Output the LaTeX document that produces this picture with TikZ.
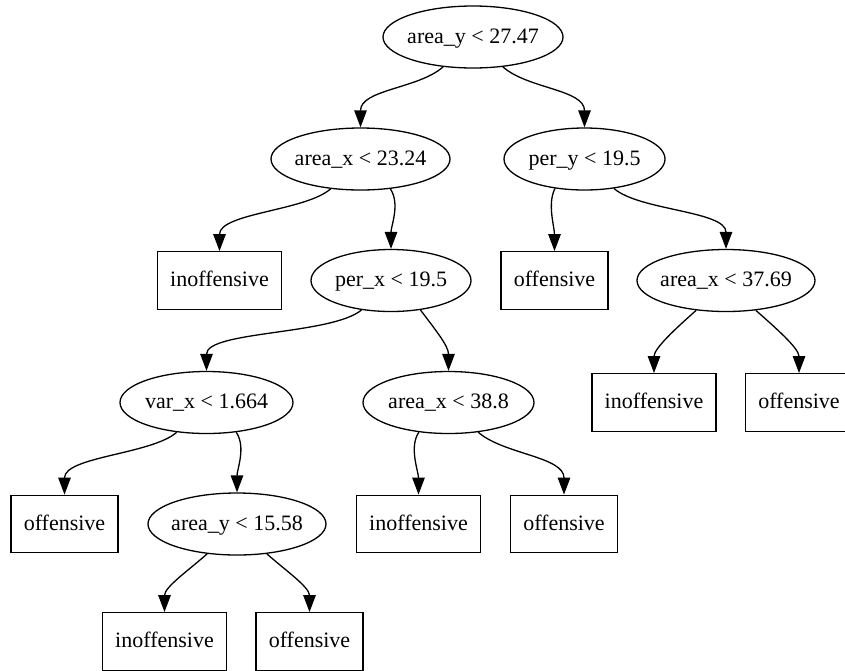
\documentclass[tikz,border=0pt]{standalone}
\usepackage{fontspec}
\setmainfont{Liberation Serif}
\newfontfamily\treefont{Liberation Serif}
\usetikzlibrary{shapes.geometric,arrows.meta}
\begin{document}
\begin{tikzpicture}[x=1pt,y=-1pt,
  labelfont/.style={font=\treefont\fontsize{22}{26}\selectfont,text height=16pt,text depth=4pt},
  split/.style={ellipse,draw,line width=1.3pt,labelfont,inner xsep=-12pt,inner ysep=0pt,minimum height=62pt},
  leaf/.style={rectangle,draw,line width=1.3pt,labelfont,inner xsep=12.7pt,inner ysep=0pt,minimum height=57.6pt},
  edge/.style={line width=1.3pt,-{Triangle[length=17pt,width=12.5pt]}}]
\useasboundingbox (0,0) rectangle (845,670);

% decision nodes and leaves, one rank per row
\node[split,minimum width=180pt] (r)  at (473,37)     {area\_y < 27.47};
\node[split,minimum width=179pt] (a1) at (360.5,159)  {area\_x < 23.24};
\node[split,minimum width=161pt] (py) at (584.5,159)  {per\_y < 19.5};
\node[leaf]                      (i1) at (219.5,280.5) {inoffensive};
\node[split,minimum width=160pt] (px) at (391,280.5)  {per\_x < 19.5};
\node[leaf]                      (o1) at (554.5,280.5) {offensive};
\node[split,minimum width=178pt] (a2) at (726,280.5)  {area\_x < 37.69};
\node[split,minimum width=173pt] (vx) at (206.5,402.5) {var\_x < 1.664};
\node[split,minimum width=171pt] (a3) at (448.5,402.5) {area\_x < 38.8};
\node[leaf]                      (i2) at (654,402.5)  {inoffensive};
\node[leaf]                      (o2) at (799,402.5)  {offensive};
\node[leaf]                      (o3) at (64.5,524)   {offensive};
\node[split,minimum width=178pt] (ay) at (237,524)    {area\_y < 15.58};
\node[leaf]                      (i3) at (418.5,524)  {inoffensive};
\node[leaf]                      (o4) at (564,524)    {offensive};
\node[leaf]                      (i4) at (164.5,641.5) {inoffensive};
\node[leaf]                      (o5) at (309.5,641.5) {offensive};

% branches
\draw[edge] (r.-135)  .. controls +(-25,22) and +(0,-38) .. (a1.north);
\draw[edge] (r.-45)   .. controls +(25,22)  and +(0,-38) .. (py.north);
\draw[edge] (a1.-135) .. controls +(-25,22) and +(0,-38) .. (i1.north);
\draw[edge] (a1.-45)  .. controls +(10,15)  and +(0,-23) .. (px.north);
\draw[edge] (py.-135) .. controls +(-8,15)  and +(0,-24) .. (o1.north);
\draw[edge] (py.-45)  .. controls +(25,22)  and +(0,-38) .. (a2.north);
\draw[edge] (px.-135) .. controls +(-30,25) and +(0,-40) .. (vx.north);
\draw[edge] (px.-45)  .. controls +(15,20)  and +(0,-25) .. (a3.north);
\draw[edge] (a2.-135) .. controls +(-18,16) and +(0,-25) .. (i2.north);
\draw[edge] (a2.-45)  .. controls +(18,16)  and +(0,-25) .. (o2.north);
\draw[edge] (vx.-135) .. controls +(-25,22) and +(0,-38) .. (o3.north);
\draw[edge] (vx.-45)  .. controls +(10,15)  and +(0,-23) .. (ay.north);
\draw[edge] (a3.-135) .. controls +(-10,15) and +(0,-23) .. (i3.north);
\draw[edge] (a3.-45)  .. controls +(25,22)  and +(0,-38) .. (o4.north);
\draw[edge] (ay.-135) .. controls +(-18,16) and +(0,-25) .. (i4.north);
\draw[edge] (ay.-45)  .. controls +(18,16)  and +(0,-25) .. (o5.north);
\end{tikzpicture}
\end{document}
